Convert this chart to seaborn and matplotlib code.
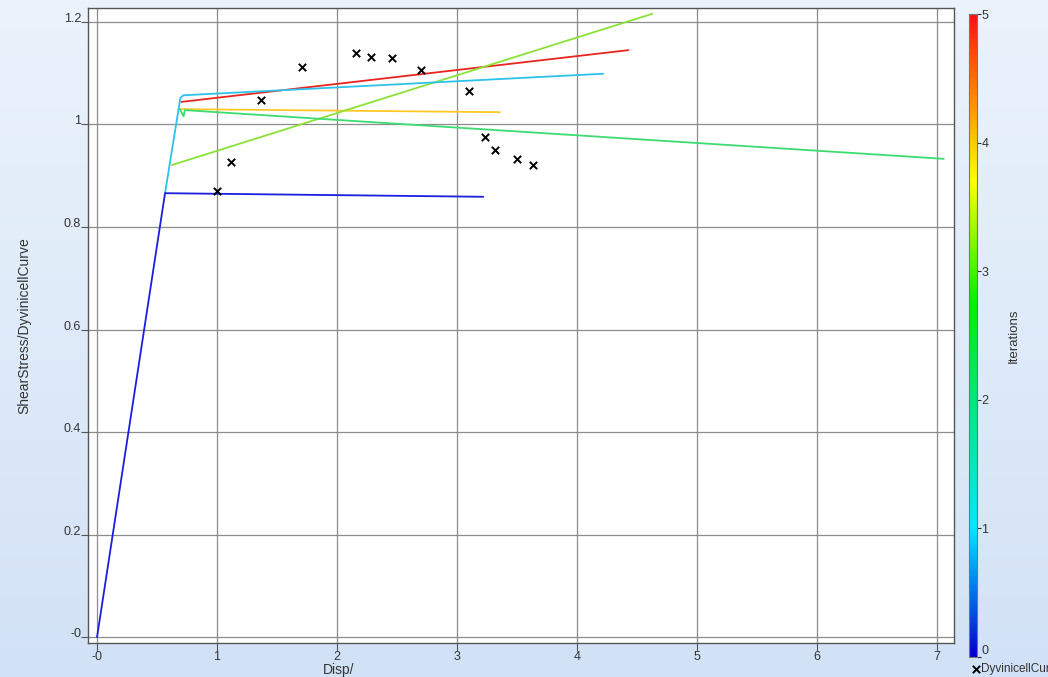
import numpy as np
import pandas as pd
import seaborn as sns
import matplotlib
matplotlib.use('Agg')
import matplotlib.pyplot as plt
from matplotlib.colors import LinearSegmentedColormap, Normalize
from matplotlib.cm import ScalarMappable

# Curves per iteration (disp, shear stress)
iter0_disp = [0.0, 0.567, 3.22]
iter0_stress = [0.0, 0.866, 0.859]
iter1_disp = [0.567, 0.695, 0.72, 4.22]
iter1_stress = [0.866, 1.052, 1.057, 1.099]
iter2_disp = [0.69, 0.722, 0.732, 7.06]
iter2_stress = [1.030, 1.016, 1.028, 0.933]
iter3_disp = [0.625, 4.63]
iter3_stress = [0.921, 1.216]
iter4_disp = [0.69, 3.36]
iter4_stress = [1.030, 1.024]
iter5_disp = [0.70, 4.43]
iter5_stress = [1.044, 1.145]

iter_colors = ['#1c1ee0', '#2ec2ea', '#3ddc70', '#8ae236', '#ffc826', '#e8261e']

# Measured curve (black crosses)
meas_disp = [1.0, 1.117, 1.367, 1.708, 2.158, 2.283, 2.458, 2.70, 3.10, 3.233, 3.317, 3.50, 3.633]
meas_stress = [0.870, 0.927, 1.048, 1.112, 1.140, 1.132, 1.130, 1.106, 1.065, 0.976, 0.950, 0.933, 0.921]

x_ticks = [0, 1, 2, 3, 4, 5, 6, 7]
x_labels = ['-0', '1', '2', '3', '4', '5', '6', '7']
y_ticks = [0, 0.2, 0.4, 0.6, 0.8, 1.0, 1.2]
y_labels = ['-0', '0.2', '0.4', '0.6', '0.8', '1', '1.2']

# build long table for seaborn
frames = []
all_disp = [iter0_disp, iter1_disp, iter2_disp, iter3_disp, iter4_disp, iter5_disp]
all_stress = [iter0_stress, iter1_stress, iter2_stress, iter3_stress, iter4_stress, iter5_stress]
for i, (d, s) in enumerate(zip(all_disp, all_stress)):
    frames.append(pd.DataFrame({'Disp': d, 'Stress': s, 'Iteration': str(i)}))
df = pd.concat(frames, ignore_index=True)
df_meas = pd.DataFrame({'Disp': meas_disp, 'Stress': meas_stress})

sns.set_style('white')
plt.rcParams['font.family'] = ['Liberation Sans', 'DejaVu Sans']
text_col = '#333333'

fig = plt.figure(figsize=(10.48, 6.77), dpi=100)

# light blue gradient background
bg = fig.add_axes([0, 0, 1, 1], zorder=-10)
grad = np.linspace(0, 1, 256).reshape(-1, 1)
bg_cmap = LinearSegmentedColormap.from_list('bg', ['#ebf3fc', '#d2e2f6'])
bg.imshow(grad, aspect='auto', cmap=bg_cmap, extent=[0, 1, 0, 1])
bg.set_axis_off()

ax = fig.add_axes([0.084, 0.050, 0.826, 0.938])
ax.set_facecolor('white')

# draw from last iteration to first so the blue one sits on top
hue_order = ['5', '4', '3', '2', '1', '0']
pal = {str(i): c for i, c in enumerate(iter_colors)}
sns.lineplot(data=df, x='Disp', y='Stress', hue='Iteration', hue_order=hue_order,
             palette=pal, sort=False, estimator=None, units='Iteration',
             linewidth=1.3, legend=False, ax=ax)
sns.scatterplot(data=df_meas, x='Disp', y='Stress', marker='x', color='black',
                s=28, linewidth=1.4, label='DyvinicellCurve', ax=ax, zorder=5, legend=False)

ax.set_xlim(-0.075, 7.142)
ax.set_ylim(-0.0117, 1.227)
ax.set_xticks(x_ticks)
ax.set_xticklabels(x_labels)
ax.set_yticks(y_ticks)
ax.set_yticklabels(y_labels, va='baseline')
ax.grid(True, color='#8c8c8c', linewidth=0.9)
ax.set_axisbelow(True)
for sp in ax.spines.values():
    sp.set_color('#555555')
    sp.set_linewidth(1.0)
ax.tick_params(axis='both', labelsize=9, colors=text_col)
ax.tick_params(axis='x', direction='out', length=6, width=0.8, color='#555555', pad=0, bottom=True)
ax.tick_params(axis='y', direction='out', length=5, width=0.8, color='#555555', pad=0, left=True)

ax.set_xlabel('Disp/', fontsize=10, color=text_col)
ax.set_ylabel('ShearStress/DyvinicellCurve', fontsize=10, color=text_col)
ax.xaxis.set_label_coords(0.289, -0.032)
ax.yaxis.set_label_coords(-0.066, 0.5)

# colorbar for iterations
cmap = LinearSegmentedColormap.from_list('iters', [
    (0.0, '#0000d0'), (0.2, '#00e8ff'), (0.4, '#00e878'), (0.55, '#00f000'),
    (0.74, '#ffff00'), (0.8, '#ffcc00'), (1.0, '#ff1010')])
cax = fig.add_axes([0.925, 0.030, 0.0076, 0.949])
cb = fig.colorbar(ScalarMappable(norm=Normalize(0, 5), cmap=cmap), cax=cax)
cb.set_ticks([0, 1, 2, 3, 4, 5])
cb.set_ticklabels(['0', '1', '2', '3', '4', '5'])
cax.get_yticklabels()[0].set_va('bottom')
cb.outline.set_edgecolor('#777777')
cb.outline.set_linewidth(0.8)
cax.tick_params(labelsize=9, colors=text_col, length=3, width=0.8, pad=0)
cb.set_label('Iterations', fontsize=9.5, color=text_col, labelpad=14)

handles, labels = ax.get_legend_handles_labels()
fig.legend(handles, labels, loc='lower left', bbox_to_anchor=(0.918, -0.013),
           frameon=False, fontsize=8.5, handlelength=0.5, handletextpad=0.2,
           labelcolor=text_col)

fig.savefig('out.png', dpi=100)
